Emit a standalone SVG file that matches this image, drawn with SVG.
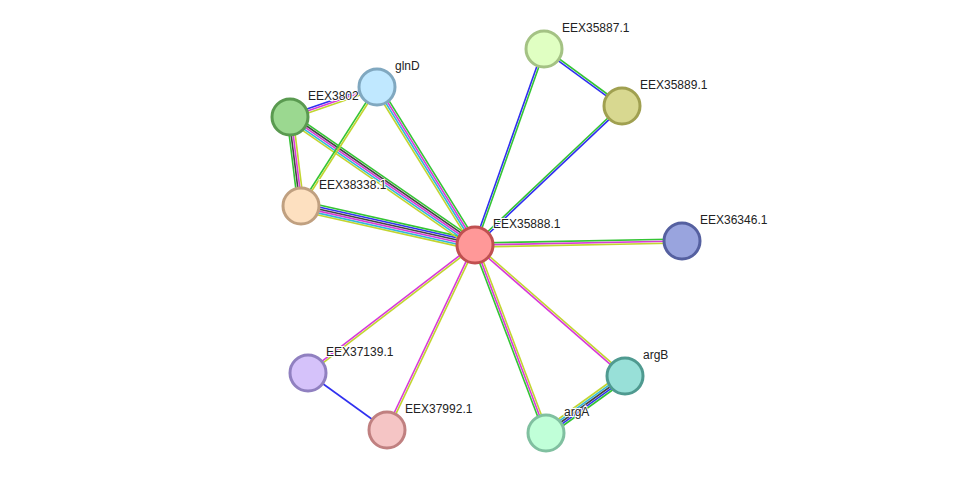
<svg xmlns="http://www.w3.org/2000/svg" width="976" height="479" viewBox="0 0 976 479">
<style>
.e line{stroke-width:1.6;fill:none}
.g{stroke:#33c433}.b{stroke:#3030f0}.m{stroke:#d83ad8}.y{stroke:#c2d530}.c{stroke:#30b8d8}.k{stroke:#444}
.n circle{stroke-width:3}
text{font-family:"Liberation Sans",Arial,sans-serif;font-size:12px;fill:#222;paint-order:stroke;stroke:#fff;stroke-width:2px}
</style>
<rect width="976" height="479" fill="#fff"/>
<g id="connectors" class="e">
<g transform="translate(475,245) rotate(-70.6)"><line x1="0" x2="208" y1="-1" y2="-1" class="b"/><line x1="0" x2="208" y1="1" y2="1" class="g"/></g>
<g transform="translate(475,245) rotate(-43.4)"><line x1="0" x2="202" y1="-1" y2="-1" class="g"/><line x1="0" x2="202" y1="1" y2="1" class="b"/></g>
<g transform="translate(544,49) rotate(36.2)"><line x1="0" x2="97" y1="-1" y2="-1" class="g"/><line x1="0" x2="97" y1="1" y2="1" class="b"/></g>
<g transform="translate(475,245) rotate(-1.1)"><line x1="0" x2="207" y1="-2" y2="-2" class="g"/><line x1="0" x2="207" y1="0" y2="0" class="m"/><line x1="0" x2="207" y1="2" y2="2" class="y"/></g>
<g transform="translate(475,245) rotate(41.1)"><line x1="0" x2="199" y1="-1" y2="-1" class="y"/><line x1="0" x2="199" y1="1" y2="1" class="m"/></g>
<g transform="translate(475,245) rotate(69.3)"><line x1="0" x2="201" y1="-2" y2="-2" class="y"/><line x1="0" x2="201" y1="0" y2="0" class="m"/><line x1="0" x2="201" y1="2" y2="2" class="g"/></g>
<g transform="translate(546,433) rotate(-35.8)"><line x1="0" x2="97" y1="-4" y2="-4" class="y"/><line x1="0" x2="97" y1="-2" y2="-2" class="c"/><line x1="0" x2="97" y1="0" y2="0" class="k"/><line x1="0" x2="97" y1="2" y2="2" class="b"/><line x1="0" x2="97" y1="4" y2="4" class="g"/></g>
<g transform="translate(475,245) rotate(115.4)"><line x1="0" x2="205" y1="-1" y2="-1" class="y"/><line x1="0" x2="205" y1="1" y2="1" class="m"/></g>
<g transform="translate(475,245) rotate(142.5)"><line x1="0" x2="210" y1="-1" y2="-1" class="y"/><line x1="0" x2="210" y1="1" y2="1" class="m"/></g>
<line x1="308" y1="373" x2="387" y2="430" class="b"/>
<g transform="translate(475,245) rotate(-167.4)"><line x1="0" x2="178" y1="-5" y2="-5" class="y"/><line x1="0" x2="178" y1="-3" y2="-3" class="c"/><line x1="0" x2="178" y1="-1" y2="-1" class="m"/><line x1="0" x2="178" y1="1" y2="1" class="k"/><line x1="0" x2="178" y1="3" y2="3" class="b"/><line x1="0" x2="178" y1="5" y2="5" class="g"/></g>
<g transform="translate(475,245) rotate(-145.3)"><line x1="0" x2="225" y1="-4" y2="-4" class="y"/><line x1="0" x2="225" y1="-2" y2="-2" class="c"/><line x1="0" x2="225" y1="0" y2="0" class="m"/><line x1="0" x2="225" y1="2" y2="2" class="k"/><line x1="0" x2="225" y1="4" y2="4" class="g"/></g>
<g transform="translate(475,245) rotate(-121.8)"><line x1="0" x2="186" y1="-3" y2="-3" class="y"/><line x1="0" x2="186" y1="-1" y2="-1" class="c"/><line x1="0" x2="186" y1="1" y2="1" class="m"/><line x1="0" x2="186" y1="3" y2="3" class="g"/></g>
<g transform="translate(290,117) rotate(-19)"><line x1="0" x2="92" y1="-2" y2="-2" class="b"/><line x1="0" x2="92" y1="0" y2="0" class="m"/><line x1="0" x2="92" y1="2" y2="2" class="y"/></g>
<g transform="translate(290,117) rotate(82.95)"><line x1="0" x2="90" y1="-3" y2="-3" class="y"/><line x1="0" x2="90" y1="-1" y2="-1" class="m"/><line x1="0" x2="90" y1="1" y2="1" class="k"/><line x1="0" x2="90" y1="3" y2="3" class="g"/></g>
<g transform="translate(301,206) rotate(-57.4)"><line x1="0" x2="141" y1="-1" y2="-1" class="g"/><line x1="0" x2="141" y1="1" y2="1" class="y"/></g>
</g>
<g id="EEX35887.1" class="n"><circle cx="544" cy="49" r="18" fill="#e0ffc2" stroke="#a4c284"/><text x="562" y="32">EEX35887.1</text></g>
<g id="EEX35889.1" class="n"><circle cx="622" cy="106" r="18" fill="#d8d890" stroke="#a0a050"/><text x="640" y="89">EEX35889.1</text></g>
<g id="EEX36346.1" class="n"><circle cx="682" cy="241" r="18" fill="#99a4de" stroke="#5560a0"/><text x="700" y="224">EEX36346.1</text></g>
<g id="argB" class="n"><circle cx="625" cy="376" r="18" fill="#98e0d8" stroke="#4f9a90"/><text x="643" y="359">argB</text></g>
<g id="argA" class="n"><circle cx="546" cy="433" r="18" fill="#c0ffd8" stroke="#80c0a0"/><text x="564" y="416">argA</text></g>
<g id="EEX37992.1" class="n"><circle cx="387" cy="430" r="18" fill="#f5c5c5" stroke="#c08080"/><text x="405" y="413">EEX37992.1</text></g>
<g id="EEX37139.1" class="n"><circle cx="308" cy="373" r="18" fill="#d5c2fa" stroke="#9080c0"/><text x="326" y="356">EEX37139.1</text></g>
<g id="EEX38338.1" class="n"><circle cx="301" cy="206" r="18" fill="#fde0c0" stroke="#c0a080"/><text x="319" y="189">EEX38338.1</text></g>
<g id="EEX3802" class="n"><circle cx="290" cy="117" r="18" fill="#9bd890" stroke="#5a9a50"/><text x="308" y="100">EEX3802</text></g>
<g id="glnD" class="n"><circle cx="377" cy="87" r="18" fill="#c0e8ff" stroke="#80a8c0"/><text x="395" y="70">glnD</text></g>
<g id="EEX35888.1" class="n"><circle cx="475" cy="245" r="18" fill="#ff9898" stroke="#c05050"/><text x="493" y="228">EEX35888.1</text></g>
</svg>
